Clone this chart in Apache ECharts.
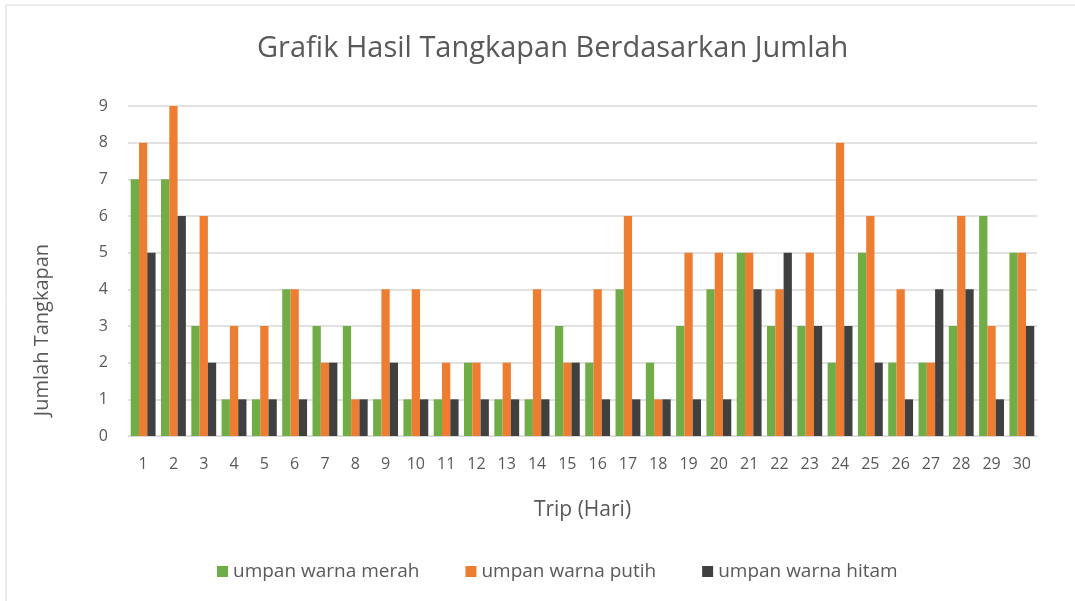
<!DOCTYPE html>
<html>
<head>
<meta charset="utf-8">
<script src="https://cdn.jsdelivr.net/npm/echarts@6/dist/echarts.min.js"></script>
<style>
  html, body { margin: 0; padding: 0; background: #fff; }
  #chart { width: 1075px; height: 601px; }
</style>
</head>
<body>
<div id="chart"></div>
<script>
const trips = ['1','2','3','4','5','6','7','8','9','10','11','12','13','14','15','16','17','18','19','20','21','22','23','24','25','26','27','28','29','30'];
const umpanMerah = [7,7,3,1,1,4,3,3,1,1,1,2,1,1,3,2,4,2,3,4,5,3,3,2,5,2,2,3,6,5];
const umpanPutih = [8,9,6,3,3,4,2,1,4,4,2,2,2,4,2,4,6,1,5,5,5,4,5,8,6,4,2,6,3,5];
const umpanHitam = [5,6,2,1,1,1,2,1,2,1,1,1,1,1,2,1,1,1,1,1,4,5,3,3,2,1,4,4,1,3];
const yTicks = [0,1,2,3,4,5,6,7,8,9];

const chart = echarts.init(document.getElementById('chart'));
const font = '"Open Sans", sans-serif';
const textColor = '#595959';

// satu seri per warna umpan
function makeSeries(name, data, color) {
    return {
        name: name,
        type: 'bar',
        data: data,
        barGap: '0%',
        barCategoryGap: '18%',
        label: { show: false },
        itemStyle: { color: color },
    };
}

const option = {
    animation: false,
    backgroundColor: '#fff',
    title: {
        text: 'Grafik Hasil Tangkapan Berdasarkan Jumlah',
        left: 252,
        top: 29,
        textStyle: { fontFamily: font, fontSize: 29, fontWeight: 'normal', color: '#595959' },
    },
    grid: { left: 128, right: 38, top: 106, bottom: 165, containLabel: false },
    legend: {
        bottom: 15,
        left: 212,
        itemWidth: 11,
        itemHeight: 11,
        itemGap: 46,
        icon: 'rect',
        textStyle: { fontFamily: font, fontSize: 19, color: textColor },
        data: ['umpan warna merah', 'umpan warna putih', 'umpan warna hitam'],
    },
    xAxis: {
        type: 'category',
        data: trips,
        name: 'Trip (Hari)',
        nameLocation: 'middle',
        nameGap: 64,
        nameTextStyle: { fontFamily: font, fontSize: 21, color: textColor },
        axisLine: { lineStyle: { color: '#d9d9d9' } },
        axisTick: { show: false },
        axisLabel: { fontFamily: font, fontSize: 16, color: textColor, margin: 20 },
    },
    yAxis: {
        type: 'value',
        min: yTicks[0],
        max: yTicks[yTicks.length - 1],
        interval: 1,
        name: 'Jumlah Tangkapan',
        nameLocation: 'middle',
        nameGap: 76,
        nameRotate: 90,
        nameTextStyle: { fontFamily: font, fontSize: 20, color: textColor, padding: [0, 0, 0, -118] },
        axisLine: { show: false },
        axisTick: { show: false },
        axisLabel: { fontFamily: font, fontSize: 16, color: textColor, margin: 20 },
        splitLine: { lineStyle: { color: '#d9d9d9', width: 1.5 } },
    },
    series: [
        makeSeries('umpan warna merah', umpanMerah, '#70ad47'),
        makeSeries('umpan warna putih', umpanPutih, '#ed7d31'),
        makeSeries('umpan warna hitam', umpanHitam, '#404040'),
    ],
    graphic: [{
        type: 'rect',
        shape: { x: 6, y: 5, width: 1080, height: 600 },
        style: { fill: 'none', stroke: '#d9d9d9', lineWidth: 1 },
        silent: true,
    }],
};
chart.setOption(option, true);
</script>
</body>
</html>
